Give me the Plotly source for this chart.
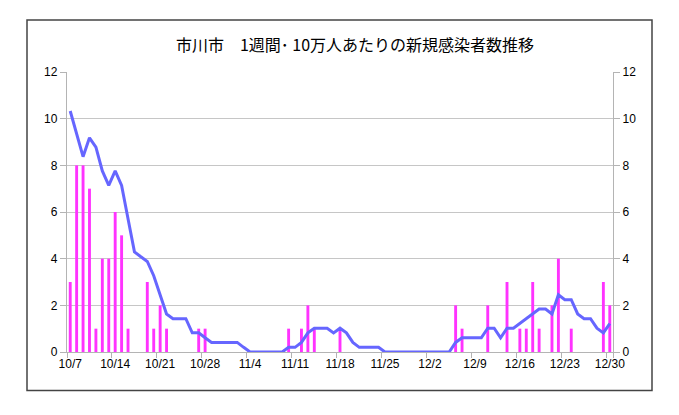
import datetime as dt
import plotly.graph_objects as go

# ---- data ----
START = dt.date(2020, 10, 7)
DATES = [f"{(START + dt.timedelta(days=i)).month}/{(START + dt.timedelta(days=i)).day}" for i in range(85)]

DAILY_CASES = [
    3, 8, 8, 7, 1, 4, 4, 6, 5, 1,   # 10/7 - 10/16
    0, 0, 3, 1, 2, 1, 0, 0, 0, 0,   # 10/17 - 10/26
    1, 1, 0, 0, 0, 0, 0, 0, 0, 0,   # 10/27 - 11/5
    0, 0, 0, 0, 1, 0, 1, 2, 1, 0,   # 11/6 - 11/15
    0, 0, 1, 0, 0, 0, 0, 0, 0, 0,   # 11/16 - 11/25
    0, 0, 0, 0, 0, 0, 0, 0, 0, 0,   # 11/26 - 12/5
    2, 1, 0, 0, 0, 2, 0, 0, 3, 0,   # 12/6 - 12/15
    1, 1, 3, 1, 0, 2, 4, 0, 1, 0,   # 12/16 - 12/25
    0, 0, 0, 3, 2,                  # 12/26 - 12/30
]

WEEKLY_PER_100K = [
    10.33, 9.39, 8.37, 9.18, 8.78, 7.76, 7.14, 7.76, 7.14, 5.71,
    4.29, 4.08, 3.88, 3.27, 2.45, 1.63, 1.43, 1.43, 1.43, 0.82,
    0.82, 0.61, 0.41, 0.41, 0.41, 0.41, 0.41, 0.20, 0.00, 0.00,
    0.00, 0.00, 0.00, 0.00, 0.20, 0.20, 0.41, 0.82, 1.02, 1.02,
    1.02, 0.82, 1.02, 0.82, 0.41, 0.20, 0.20, 0.20, 0.20, 0.00,
    0.00, 0.00, 0.00, 0.00, 0.00, 0.00, 0.00, 0.00, 0.00, 0.00,
    0.41, 0.61, 0.61, 0.61, 0.61, 1.02, 1.02, 0.61, 1.02, 1.02,
    1.22, 1.43, 1.63, 1.84, 1.84, 1.63, 2.45, 2.24, 2.24, 1.63,
    1.43, 1.43, 1.02, 0.82, 1.22,
]

TICK_LABELS = ["10/7", "10/14", "10/21", "10/28", "11/4", "11/11", "11/18",
               "11/25", "12/2", "12/9", "12/16", "12/23", "12/30"]
Y_TICKS = [0, 2, 4, 6, 8, 10, 12]

TITLE = "市川市　1週間･ 10万人あたりの新規感染者数推移"

# ---- figure ----
AXIS_GRAY = "#b4b4b4"
FONT = dict(family="Liberation Sans, Arial, sans-serif", size=12, color="black")

fig = go.Figure()
fig.add_bar(x=DATES, y=DAILY_CASES, marker=dict(color="#FF33FF", line=dict(width=0)),
            yaxis="y", hoverinfo="x+y")
fig.add_scatter(x=DATES, y=WEEKLY_PER_100K, mode="lines",
                line=dict(color="#6666FF", width=3), yaxis="y2")

W, H = 679, 415
ML, MR, MT, MB = 67, 66, 72, 63
pw, ph = W - ML - MR, H - MT - MB

def px_x(p):
    return (p - ML) / pw

def px_y(p):
    return (H - MB - p) / ph

fig.update_layout(
    width=W, height=H,
    margin=dict(l=ML, r=MR, t=MT, b=MB, pad=0),
    paper_bgcolor="white", plot_bgcolor="white",
    showlegend=False, bargap=0.55,
    font=FONT,
    xaxis=dict(type="category", tickmode="array", tickvals=TICK_LABELS, ticktext=TICK_LABELS,
               tickson="boundaries", ticks="outside", ticklen=5, tickcolor=AXIS_GRAY,
               tickangle=0, automargin=False,
               showline=True, linecolor=AXIS_GRAY, linewidth=1.3, showgrid=False,
               tickfont=FONT, range=[-0.5, len(DATES) - 0.5]),
    yaxis=dict(range=[0, 12], tickvals=Y_TICKS, showgrid=True, gridcolor="#c6c6c6", gridwidth=1,
               ticks="outside", ticklen=6, tickcolor=AXIS_GRAY, showline=True,
               linecolor=AXIS_GRAY, linewidth=1.3, zeroline=False, tickfont=FONT),
    yaxis2=dict(range=[0, 12], tickvals=Y_TICKS, overlaying="y", side="right", showgrid=False,
                ticks="outside", ticklen=6, tickcolor=AXIS_GRAY, showline=True,
                linecolor=AXIS_GRAY, linewidth=1.3, zeroline=False, tickfont=FONT),
    title=dict(text=TITLE, x=355 / W, xanchor="center", y=1 - 45 / H, yanchor="middle",
               font=dict(family="Noto Sans CJK JP", size=16, color="black")),
    shapes=[dict(type="rect", xref="paper", yref="paper",
                 x0=px_x(27), x1=px_x(652), y0=px_y(390.5), y1=px_y(20),
                 line=dict(color="#444444", width=1.5), layer="below")],
)

fig.write_html("out.html")
